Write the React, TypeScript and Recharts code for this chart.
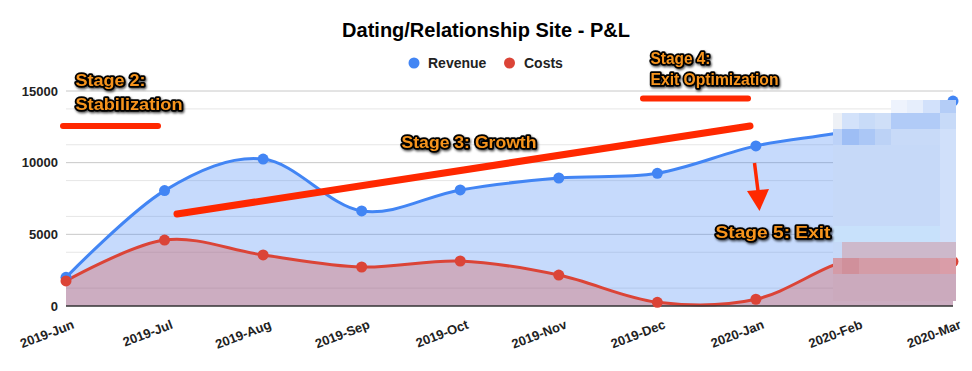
import React from 'react';
import { AreaChart, Area, XAxis, YAxis, CartesianGrid } from 'recharts';

const months = ['2019-Jun', '2019-Jul', '2019-Aug', '2019-Sep', '2019-Oct', '2019-Nov', '2019-Dec', '2020-Jan', '2020-Feb', '2020-Mar'];
const revenue = [2000, 8050, 10250, 6630, 8100, 8930, 9260, 11170, 12300, 14300];
const costs = [1750, 4600, 3560, 2720, 3140, 2160, 260, 470, 3300, 3100];
const yTicks = [0, 5000, 10000, 15000];
const majorGrid = [5000, 10000, 15000];
const minorGrid = [1250, 2500, 3750, 6250, 7500, 8750, 11250, 12500, 13750];

const REV = '#4285F4';
const COST = '#DB4437';
const RED = '#ff2800';
const ORANGE = '#f7941d';
const FONT = "'Liberation Sans', Arial, Helvetica, sans-serif";

const data = months.map((m, i) => ({ month: m, revenue: revenue[i], costs: costs[i] }));

// Cardinal (Catmull-Rom style) spline curve factory, similar to Google Charts' smoothing
function cardinalCurve(context: any) {
  const k = 1 / 6;
  let x0 = NaN, y0 = NaN, x1 = NaN, y1 = NaN, x2 = NaN, y2 = NaN;
  let pt = 0;
  let line: number = NaN;
  const bez = (x: number, y: number) => {
    context.bezierCurveTo(x1 + k * (x2 - x0), y1 + k * (y2 - y0), x2 + k * (x1 - x), y2 + k * (y1 - y), x2, y2);
  };
  return {
    areaStart() { line = 0; },
    areaEnd() { line = NaN; },
    lineStart() { x0 = x1 = x2 = y0 = y1 = y2 = NaN; pt = 0; },
    lineEnd() {
      switch (pt) {
        case 2: context.lineTo(x2, y2); break;
        case 3: bez(x1, y1); break;
      }
      if (line || (line !== 0 && pt === 1)) context.closePath();
      line = 1 - line;
    },
    point(x: number, y: number) {
      x = +x; y = +y;
      switch (pt) {
        case 0: pt = 1; if (line) context.lineTo(x, y); else context.moveTo(x, y); break;
        case 1: pt = 2; x1 = x; y1 = y; break;
        case 2: pt = 3; bez(x, y); break;
        default: bez(x, y); break;
      }
      x0 = x1; x1 = x2; x2 = x;
      y0 = y1; y1 = y2; y2 = y;
    },
  };
}

const XTick = (props: any) => {
  const { x, y, payload } = props;
  const ax = x + 9;
  const ay = y + 22;
  return (
    <text x={ax} y={ay} transform={`rotate(-21, ${ax}, ${ay})`} textAnchor="end" fontSize={13} fontWeight="bold" fill="#222" fontFamily={FONT}>
      {payload.value}
    </text>
  );
};

const annStyle: any = {
  fill: ORANGE,
  stroke: '#000',
  strokeWidth: 3.5,
  paintOrder: 'stroke',
  strokeLinejoin: 'round',
  fontWeight: 'bold',
  fontFamily: FONT,
  filter: 'url(#shadow)',
};

const mosaicCols = [833, 842, 859, 875, 891, 907, 923, 940, 956];
const mosaic: { c0: number; c1: number; y0: number; y1: number; fill: string }[] = [
  { c0: 4, c1: 5, y0: 100, y1: 113, fill: '#eef3fd' },
  { c0: 5, c1: 6, y0: 100, y1: 113, fill: '#e6eefc' },
  { c0: 6, c1: 7, y0: 100, y1: 113, fill: '#d2e1fb' },
  { c0: 7, c1: 8, y0: 100, y1: 113, fill: '#b4cdf7' },
  { c0: 0, c1: 1, y0: 113, y1: 129, fill: '#eef1f6' },
  { c0: 1, c1: 2, y0: 113, y1: 129, fill: '#d3e2fa' },
  { c0: 2, c1: 3, y0: 113, y1: 129, fill: '#c8dbf8' },
  { c0: 3, c1: 4, y0: 113, y1: 129, fill: '#cfdff8' },
  { c0: 4, c1: 7, y0: 113, y1: 129, fill: '#b1cbf7' },
  { c0: 7, c1: 8, y0: 113, y1: 129, fill: '#c7daf8' },
  { c0: 0, c1: 1, y0: 129, y1: 145, fill: '#bcd2f8' },
  { c0: 1, c1: 2, y0: 129, y1: 145, fill: '#9ebef5' },
  { c0: 2, c1: 3, y0: 129, y1: 145, fill: '#abc7f6' },
  { c0: 3, c1: 4, y0: 129, y1: 145, fill: '#bcd2f6' },
  { c0: 4, c1: 7, y0: 129, y1: 145, fill: '#c8daf8' },
  { c0: 7, c1: 8, y0: 129, y1: 145, fill: '#d0e0fa' },
  { c0: 0, c1: 7, y0: 145, y1: 226, fill: '#c6d9f8' },
  { c0: 7, c1: 8, y0: 145, y1: 226, fill: '#d0e0fa' },
  { c0: 0, c1: 7, y0: 226, y1: 242, fill: '#c8e1fb' },
  { c0: 7, c1: 8, y0: 226, y1: 242, fill: '#d0e0fa' },
  { c0: 0, c1: 1, y0: 242, y1: 258, fill: '#c6d9f8' },
  { c0: 1, c1: 8, y0: 242, y1: 258, fill: '#cdb9cb' },
  { c0: 0, c1: 1, y0: 258, y1: 274, fill: '#d49ba7' },
  { c0: 1, c1: 2, y0: 258, y1: 274, fill: '#d0909b' },
  { c0: 2, c1: 7, y0: 258, y1: 274, fill: '#d49ca7' },
  { c0: 7, c1: 8, y0: 258, y1: 274, fill: '#da9da8' },
  { c0: 0, c1: 8, y0: 274, y1: 301, fill: '#cbaabd' },
];

export default function App() {
  return (
    <div style={{ position: 'absolute', left: 0, top: 0, width: 972, height: 371, background: '#fff', fontFamily: FONT }}>
      <AreaChart width={972} height={371} data={data} margin={{ top: 91, right: 19, bottom: 0, left: 0 }}>
        <CartesianGrid vertical={false} horizontalValues={minorGrid} stroke="#e6e6e6" />
        <CartesianGrid vertical={false} horizontalValues={majorGrid} stroke="#c8c8c8" />
        <XAxis
          dataKey="month"
          scale="point"
          padding={{ left: 0, right: 0 }}
          height={65}
          interval={0}
          tickLine={false}
          tickSize={0}
          tickMargin={0}
          axisLine={{ stroke: '#333', strokeWidth: 1.5 }}
          tick={<XTick />}
        />
        <YAxis
          width={66}
          domain={[0, 15000]}
          ticks={yTicks}
          axisLine={false}
          tickLine={false}
          tickSize={0}
          tickMargin={8}
          tick={{ fontSize: 13, fontWeight: 'bold', fill: '#222' }}
        />
        <Area
          dataKey="revenue"
          type={cardinalCurve as any}
          stroke={REV}
          strokeWidth={3}
          fill={REV}
          fillOpacity={0.3}
          dot={{ r: 5.5, fill: REV, fillOpacity: 1, stroke: REV, strokeWidth: 0 }}
          activeDot={false}
          isAnimationActive={false}
        />
        <Area
          dataKey="costs"
          type={cardinalCurve as any}
          stroke={COST}
          strokeWidth={3}
          fill={COST}
          fillOpacity={0.3}
          dot={{ r: 5.5, fill: COST, fillOpacity: 1, stroke: COST, strokeWidth: 0 }}
          activeDot={false}
          isAnimationActive={false}
        />
      </AreaChart>
      <svg width={972} height={371} style={{ position: 'absolute', left: 0, top: 0, pointerEvents: 'none' }}>
        <defs>
          <filter id="shadow" x="-10%" y="-30%" width="120%" height="170%">
            <feDropShadow dx="1" dy="1.5" stdDeviation="1.2" floodColor="#000" floodOpacity="0.7" />
          </filter>
        </defs>
        {mosaic.map((r, i) => (
          <rect key={i} x={mosaicCols[r.c0]} y={r.y0} width={mosaicCols[r.c1] - mosaicCols[r.c0]} height={r.y1 - r.y0} fill={r.fill} />
        ))}
        <text x={486} y={37} textAnchor="middle" fontSize={20} fontWeight="bold" fill="#000" fontFamily={FONT}>
          Dating/Relationship Site - P&amp;L
        </text>
        <circle cx={414} cy={63} r={5.5} fill={REV} />
        <text x={428} y={68} fontSize={14} fontWeight="bold" fill="#222" fontFamily={FONT}>Revenue</text>
        <circle cx={509.5} cy={63} r={5.5} fill={COST} />
        <text x={524} y={68} fontSize={14} fontWeight="bold" fill="#222" fontFamily={FONT}>Costs</text>

        <line x1={63} y1={126} x2={158} y2={126} stroke={RED} strokeWidth={6} strokeLinecap="round" />
        <line x1={177} y1={214} x2={750} y2={126} stroke={RED} strokeWidth={7} strokeLinecap="round" />
        <line x1={643} y1={98.5} x2={748} y2={98.5} stroke={RED} strokeWidth={6} strokeLinecap="round" />
        <line x1={754.5} y1={163} x2={758.5} y2={195} stroke={RED} strokeWidth={3.5} />
        <polygon points="747,191 769,189 759.5,211" fill={RED} />

        <text x={75.5} y={85.5} fontSize={17} textLength={70} lengthAdjust="spacingAndGlyphs" style={annStyle}>Stage 2:</text>
        <text x={75.5} y={109.5} fontSize={17} textLength={107} lengthAdjust="spacingAndGlyphs" style={annStyle}>Stabilization</text>
        <text x={401.5} y={147.5} fontSize={17} textLength={135} lengthAdjust="spacingAndGlyphs" style={annStyle}>Stage 3: Growth</text>
        <text x={650.5} y={63.5} fontSize={16} textLength={60} lengthAdjust="spacingAndGlyphs" style={annStyle}>Stage 4:</text>
        <text x={650.5} y={84.5} fontSize={16} textLength={128} lengthAdjust="spacingAndGlyphs" style={annStyle}>Exit Optimization</text>
        <text x={715.5} y={237.5} fontSize={17} textLength={115} lengthAdjust="spacingAndGlyphs" style={annStyle}>Stage 5: Exit</text>
      </svg>
    </div>
  );
}
